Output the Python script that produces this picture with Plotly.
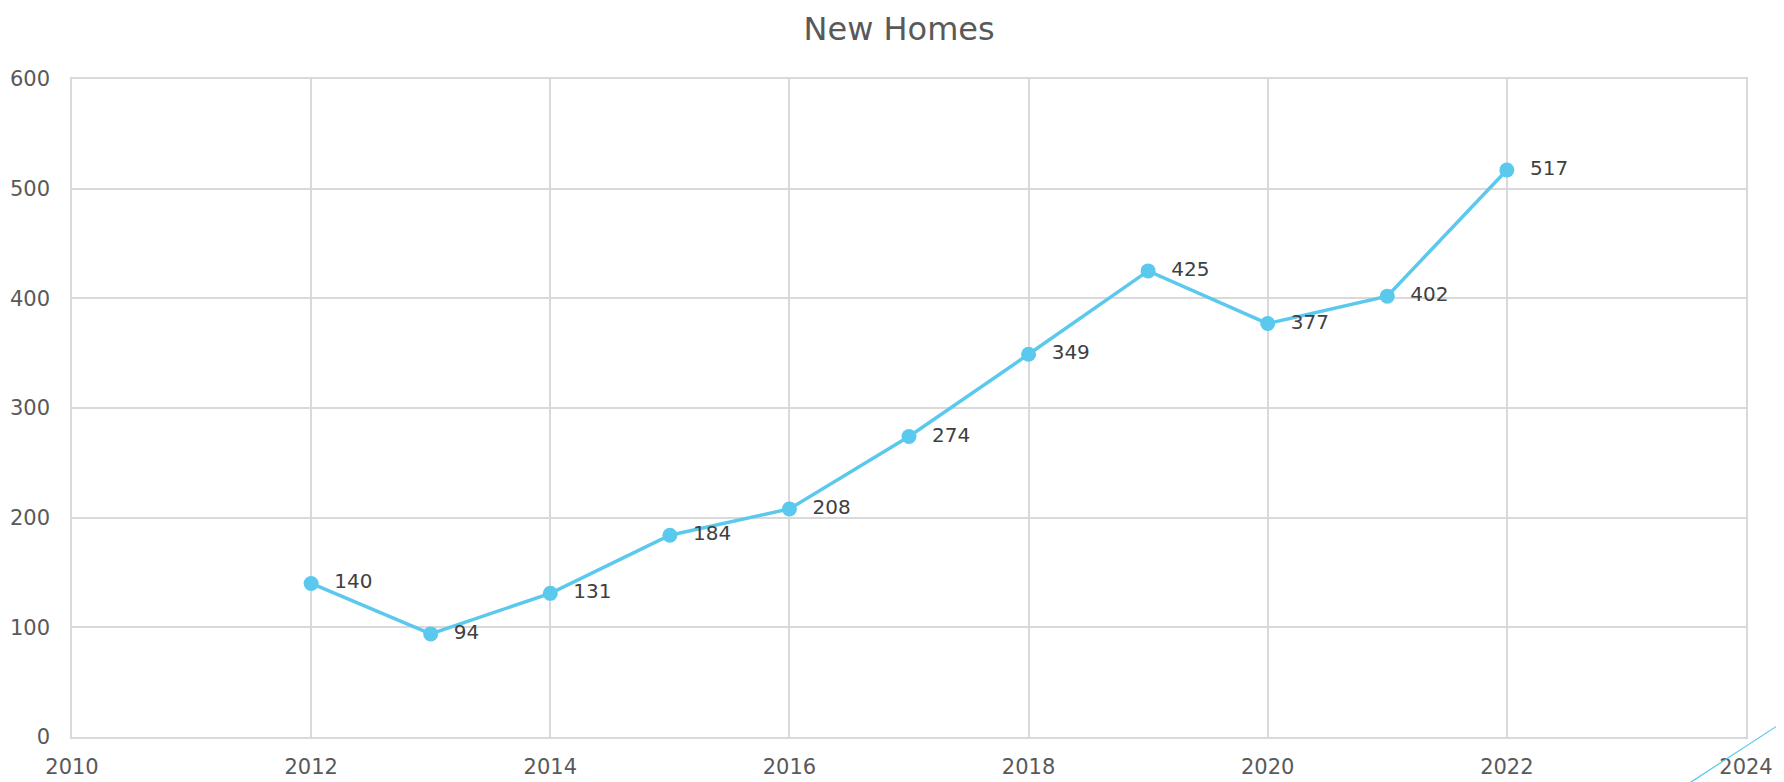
import plotly.graph_objects as go

years = [2012, 2013, 2014, 2015, 2016, 2017, 2018, 2019, 2020, 2021, 2022]
new_homes = [140, 94, 131, 184, 208, 274, 349, 425, 377, 402, 517]
x_ticks = [2010, 2012, 2014, 2016, 2018, 2020, 2022, 2024]
y_ticks = [0, 100, 200, 300, 400, 500, 600]

FONT = "DejaVu Sans"
LINE = "#5BC9EE"

fig = go.Figure()
fig.add_trace(go.Scatter(
    x=years, y=new_homes, mode="lines+markers+text",
    line=dict(color=LINE, width=3.5),
    marker=dict(color=LINE, size=15),
    text=["  " + str(v) for v in new_homes],
    textposition="middle right",
    textfont=dict(family=FONT, size=20, color="#404040"),
    cliponaxis=False,
    showlegend=False,
))

axis_common = dict(
    showgrid=True, gridcolor="#D9D9D9", gridwidth=1.5,
    showline=True, linecolor="#D9D9D9", linewidth=1.5, mirror=True,
    zeroline=False, ticks="", automargin=False,
    tickfont=dict(family=FONT, size=21, color="#595959"),
)

fig.update_layout(
    width=1784, height=782,
    paper_bgcolor="white", plot_bgcolor="white",
    margin=dict(l=64, r=46, t=71, b=53),
    title=dict(text="New Homes", x=0.4995, xanchor="center", y=0.973, yanchor="middle",
               font=dict(family=FONT, size=32, color="#595959")),
    xaxis=dict(range=[2010, 2024], tickvals=x_ticks, ticktext=[str(t) for t in x_ticks],
               ticklabelstandoff=10, **axis_common),
    yaxis=dict(range=[0, 600], tickvals=y_ticks, ticktext=[str(t) for t in y_ticks],
               ticklabelstandoff=16, **axis_common),
)

fig.add_shape(type="line", xref="paper", yref="paper",
              x0=0.965, y0=-0.072, x1=1.025, y1=0.0275,
              line=dict(color=LINE, width=1.2))

fig.write_html("out.html")
